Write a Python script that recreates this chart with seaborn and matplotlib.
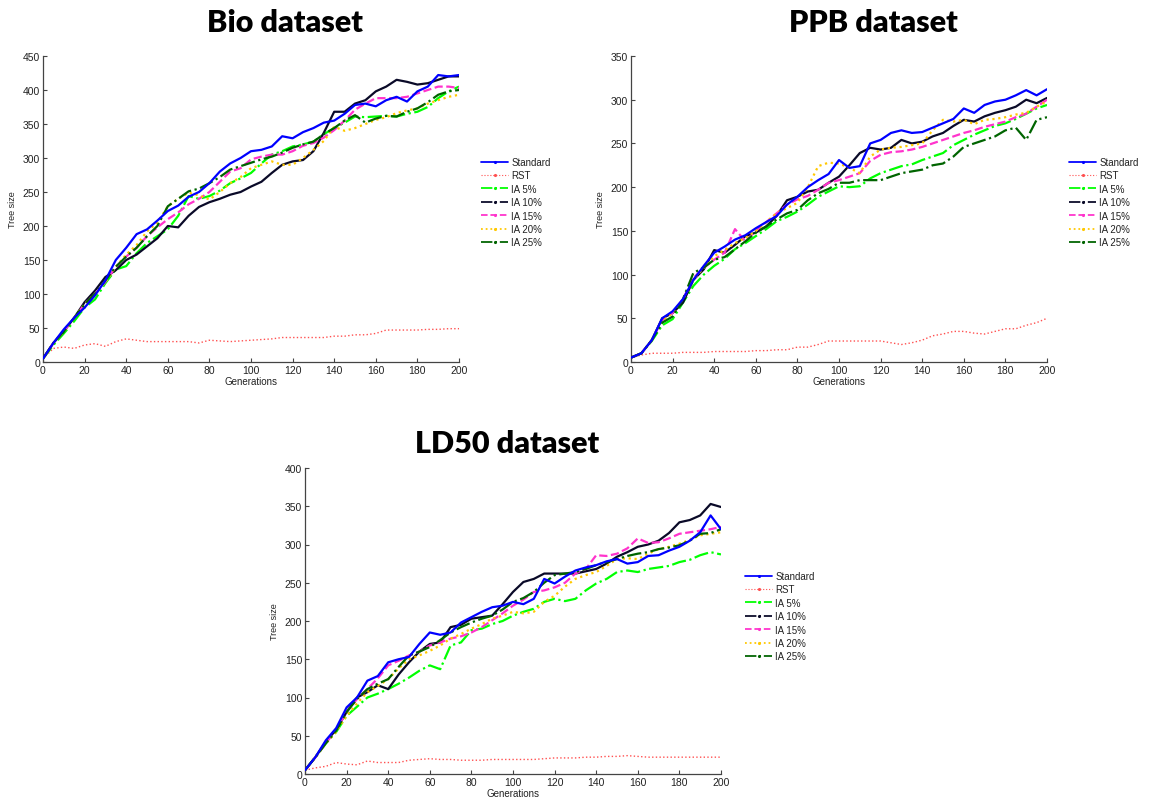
import numpy as np
import pandas as pd
import matplotlib
matplotlib.use("Agg")
import matplotlib.pyplot as plt
from matplotlib.lines import Line2D
import seaborn as sns

# ---------------- data ----------------
GENS = list(range(0, 201, 5))
SERIES = ["Standard", "RST", "IA 5%", "IA 10%", "IA 15%", "IA 20%", "IA 25%"]

BIO_STANDARD = [5, 28, 48, 65, 80, 98, 120, 150, 168, 188, 195, 208, 222, 230, 243, 250, 263, 280, 292, 300,
                310, 312, 317, 332, 329, 338, 344, 352, 355, 365, 378, 380, 376, 385, 390, 383, 398, 405, 422, 420, 422]
BIO_RST = [5, 20, 22, 20, 25, 27, 23, 30, 34, 32, 30, 30, 30, 30, 30, 28, 32, 31, 30, 31,
           32, 33, 34, 36, 36, 36, 36, 36, 38, 38, 40, 40, 42, 47, 47, 47, 47, 48, 48, 49, 49]
BIO_IA5 = [5, 25, 42, 60, 80, 92, 116, 136, 141, 160, 175, 185, 195, 215, 244, 240, 244, 252, 263, 270,
           278, 292, 305, 310, 317, 320, 324, 335, 344, 352, 361, 360, 361, 362, 361, 365, 368, 375, 388, 398, 405]
BIO_IA10 = [5, 28, 45, 65, 88, 105, 125, 135, 150, 158, 170, 182, 200, 198, 215, 228, 235, 240, 246, 250,
            258, 265, 278, 290, 295, 297, 310, 337, 368, 368, 380, 385, 398, 405, 415, 412, 408, 410, 415, 420, 420]
BIO_IA15 = [5, 28, 45, 65, 85, 100, 118, 140, 155, 168, 185, 198, 210, 220, 232, 240, 250, 265, 280, 285,
            298, 302, 305, 305, 310, 318, 322, 330, 341, 355, 371, 380, 388, 388, 388, 390, 395, 400, 405, 405, 403]
BIO_IA20 = [5, 28, 45, 65, 85, 100, 118, 140, 158, 172, 192, 205, 229, 240, 249, 245, 239, 250, 263, 272,
            285, 290, 295, 290, 290, 300, 312, 325, 346, 340, 344, 350, 356, 360, 366, 370, 373, 380, 385, 390, 393]
BIO_IA25 = [5, 28, 45, 65, 85, 100, 120, 140, 155, 168, 185, 200, 229, 240, 251, 255, 263, 272, 283, 288,
            293, 298, 302, 308, 315, 320, 324, 335, 344, 355, 363, 352, 358, 362, 361, 368, 373, 382, 393, 398, 400]

PPB_STANDARD = [5, 10, 25, 50, 58, 72, 94, 110, 125, 132, 140, 145, 153, 160, 167, 180, 189, 200, 208, 215,
                231, 222, 224, 250, 254, 262, 265, 262, 263, 268, 273, 278, 290, 285, 294, 298, 300, 305, 311, 305, 312]
PPB_RST = [5, 8, 10, 10, 10, 11, 11, 11, 12, 12, 12, 12, 13, 13, 14, 14, 17, 17, 20, 24,
           24, 24, 24, 24, 24, 22, 20, 22, 25, 30, 32, 35, 35, 33, 32, 35, 38, 38, 42, 45, 50]
PPB_IA5 = [5, 10, 24, 42, 49, 68, 87, 100, 110, 118, 129, 136, 144, 152, 161, 166, 172, 180, 189, 195,
           201, 200, 201, 210, 216, 220, 224, 226, 231, 235, 239, 248, 254, 260, 265, 270, 273, 278, 284, 290, 294]
PPB_IA10 = [5, 10, 25, 50, 56, 68, 94, 106, 128, 125, 134, 144, 148, 155, 167, 185, 189, 195, 197, 205,
            212, 225, 239, 245, 243, 245, 254, 250, 252, 258, 262, 270, 277, 275, 281, 285, 288, 292, 300, 296, 302]
PPB_IA15 = [5, 10, 25, 48, 56, 72, 96, 108, 117, 125, 152, 138, 150, 160, 170, 180, 186, 190, 197, 205,
            208, 212, 216, 230, 237, 240, 241, 243, 246, 250, 254, 258, 262, 265, 269, 272, 275, 280, 284, 292, 300]
PPB_IA20 = [5, 10, 25, 48, 56, 72, 94, 108, 121, 128, 136, 142, 150, 160, 170, 176, 182, 200, 224, 228,
            227, 222, 216, 235, 243, 245, 246, 248, 250, 265, 277, 275, 277, 272, 277, 278, 280, 283, 285, 292, 298]
PPB_IA25 = [5, 10, 25, 45, 52, 72, 102, 108, 117, 120, 129, 138, 148, 155, 163, 170, 174, 185, 193, 198,
            205, 205, 208, 208, 208, 212, 216, 218, 220, 225, 227, 235, 246, 250, 254, 258, 265, 268, 254, 277, 280]

LD50_STANDARD = [5, 22, 44, 60, 87, 100, 122, 128, 146, 150, 153, 170, 185, 182, 185, 198, 205, 212, 218, 220,
                 225, 222, 229, 255, 249, 258, 266, 270, 273, 278, 281, 275, 277, 285, 286, 292, 297, 305, 316, 338, 320]
LD50_RST = [5, 8, 10, 15, 13, 12, 17, 15, 15, 15, 18, 19, 20, 19, 19, 18, 18, 18, 19, 19,
            19, 19, 19, 20, 21, 21, 21, 22, 22, 23, 23, 24, 23, 22, 22, 22, 22, 22, 22, 22, 22]
LD50_IA5 = [5, 22, 40, 55, 76, 88, 100, 105, 111, 118, 126, 135, 142, 137, 168, 172, 188, 190, 196, 200,
            207, 212, 216, 225, 229, 226, 229, 240, 249, 255, 264, 266, 264, 268, 270, 272, 277, 280, 286, 290, 287]
LD50_IA10 = [5, 22, 42, 58, 81, 100, 107, 116, 111, 130, 146, 160, 170, 172, 192, 195, 203, 205, 207, 222,
             238, 251, 255, 262, 262, 262, 262, 265, 268, 275, 284, 290, 297, 300, 305, 315, 329, 332, 338, 353, 349]
LD50_IA15 = [5, 22, 40, 58, 81, 98, 111, 125, 142, 148, 155, 160, 168, 172, 177, 180, 185, 192, 201, 210,
             220, 228, 238, 240, 244, 250, 262, 268, 286, 285, 288, 295, 308, 302, 303, 308, 314, 316, 318, 320, 323]
LD50_IA20 = [5, 22, 40, 55, 76, 92, 107, 115, 124, 138, 150, 155, 161, 168, 177, 183, 190, 196, 203, 207,
             212, 210, 212, 225, 233, 245, 255, 260, 264, 272, 281, 282, 281, 288, 294, 297, 301, 306, 312, 314, 316]
LD50_IA25 = [5, 22, 40, 57, 81, 98, 111, 118, 124, 140, 155, 160, 166, 175, 185, 192, 198, 203, 207, 215,
             225, 230, 238, 250, 260, 262, 264, 268, 273, 277, 281, 285, 288, 290, 294, 296, 299, 305, 314, 315, 320]

TITLES = ["Bio dataset", "PPB dataset", "LD50 dataset"]
YMAX = [450, 350, 400]
PANELS = [
    [BIO_STANDARD, BIO_RST, BIO_IA5, BIO_IA10, BIO_IA15, BIO_IA20, BIO_IA25],
    [PPB_STANDARD, PPB_RST, PPB_IA5, PPB_IA10, PPB_IA15, PPB_IA20, PPB_IA25],
    [LD50_STANDARD, LD50_RST, LD50_IA5, LD50_IA10, LD50_IA15, LD50_IA20, LD50_IA25],
]

# ---------------- styles ----------------
COLORS = ["#0000FF", "#FF5050", "#00FF00", "#0A0A28", "#FF33CC", "#FFC800", "#006400"]
PLOT_LS = ["-", ":", "-.", "-", "--", ":", "-."]
LEG_LS = ["-", ":", "-.", "-.", "--", ":", "-."]
LWS = [1.6, 1.0, 1.6, 1.6, 1.6, 1.6, 1.6]

sns.set_style("white")
plt.rcParams["font.family"] = ["Liberation Sans", "DejaVu Sans"]
plt.rcParams["text.color"] = "#222222"

fig = plt.figure(figsize=(11.5, 8.03), dpi=100)
W, H = 1150.0, 803.0

def axrect(x0, x1, ytop, ybot):
    return [x0 / W, 1 - ybot / H, (x1 - x0) / W, (ybot - ytop) / H]

rects = [axrect(43, 459, 57, 363), axrect(631, 1047, 57, 363), axrect(305, 721, 469, 775)]
legpos = [(481, 158), (1069, 158), (745, 572)]
titlepos = [(285, 23), (873, 23), (507, 444)]

for i in range(3):
    ax = fig.add_axes(rects[i])
    for j, name in enumerate(SERIES):
        df = pd.DataFrame({"Generations": GENS, "Tree size": PANELS[i][j]})
        sns.lineplot(data=df, x="Generations", y="Tree size", ax=ax, color=COLORS[j],
                     linestyle=PLOT_LS[j], linewidth=LWS[j], legend=False, zorder=3 if j == 0 else 2)
    ax.set_xlim(0, 200)
    ax.set_ylim(0, YMAX[i])
    ax.set_xticks(range(0, 201, 20))
    ax.set_yticks(range(0, YMAX[i] + 1, 50))
    for s in ["top", "right"]:
        ax.spines[s].set_visible(False)
    for s in ["left", "bottom"]:
        ax.spines[s].set_color("#444444")
        ax.spines[s].set_linewidth(0.9)
    ax.tick_params(axis="both", direction="in", length=3, width=0.8, color="#444444",
                   labelsize=7.5, labelcolor="#222222", pad=2, left=True, bottom=True)
    ax.set_xlabel("Generations", fontsize=7, labelpad=1, color="#222222")
    ax.set_ylabel("Tree size", fontsize=6.5, labelpad=4, color="#222222")

    handles = [Line2D([], [], color=COLORS[j], linestyle=LEG_LS[j], linewidth=LWS[j] * 0.8,
                      marker=".", markersize=2.5) for j in range(7)]
    lx, ly = legpos[i]
    fig.legend(handles, SERIES, loc="upper left", bbox_to_anchor=(lx / W, 1 - ly / H),
               bbox_transform=fig.transFigure, frameon=False, fontsize=7, numpoints=1,
               handlelength=2.8, handletextpad=0.3, labelspacing=0.35, borderpad=0, borderaxespad=0)

    tx, ty = titlepos[i]
    fig.text(tx / W, 1 - ty / H, TITLES[i], ha="center", va="center", fontsize=22,
             fontweight="heavy", color="black", family=["Lato", "DejaVu Sans"])

fig.savefig("out.png", dpi=100)
